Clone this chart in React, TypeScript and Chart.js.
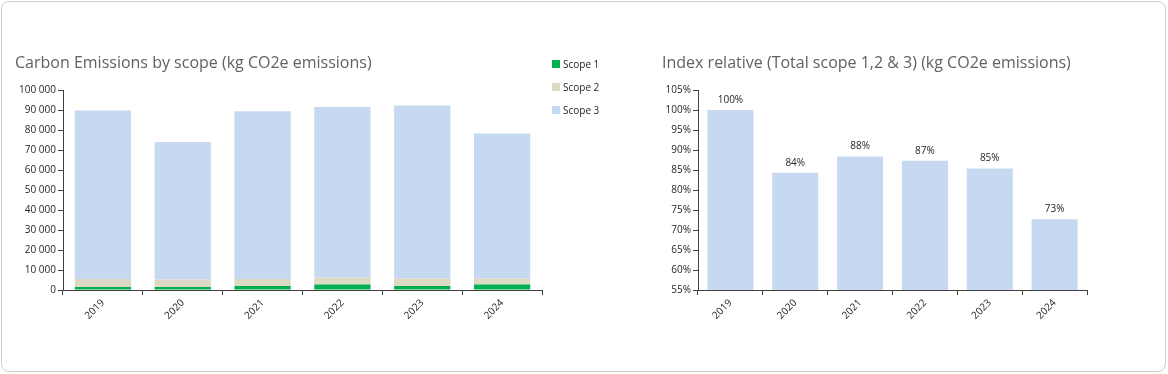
import React, { useEffect, useRef } from "react";
import { Chart, registerables } from "chart.js";

Chart.register(...registerables);

const years = ["2019", "2020", "2021", "2022", "2023", "2024"];
const scope1 = [1500, 1500, 2000, 2700, 2000, 2700];
const scope2 = [4000, 3700, 3500, 3500, 3700, 3100];
const scope3 = [84200, 68750, 83900, 85300, 86500, 72500];
const indexValues = [100, 84.3, 88.4, 87.3, 85.4, 72.7];

const FONT = "'Open Sans', sans-serif";
const AXIS = "#404040";
const TICK_TEXT = "#262626";

const fmtThousands = (v: number) => String(v).replace(/\B(?=(\d{3})+(?!\d))/g, " ");

const dataLabelPlugin = {
  id: "barTopLabels",
  afterDatasetsDraw(chart: any) {
    const ctx = chart.ctx;
    const meta = chart.getDatasetMeta(0);
    const ds = chart.data.datasets[0];
    ctx.save();
    ctx.font = `10px ${FONT}`;
    ctx.fillStyle = TICK_TEXT;
    ctx.textAlign = "center";
    ctx.textBaseline = "bottom";
    meta.data.forEach((bar: any, i: number) => {
      ctx.fillText(Math.round(ds.data[i]) + "%", bar.x, bar.y - 5);
    });
    ctx.restore();
  },
};

function axisCommon() {
  return {
    border: { display: true, color: AXIS, width: 1 },
    grid: { display: true, drawOnChartArea: false, drawTicks: true, tickLength: 5, color: AXIS },
  };
}

export default function App() {
  const leftRef = useRef<HTMLCanvasElement>(null);
  const rightRef = useRef<HTMLCanvasElement>(null);

  useEffect(() => {
    const left = new Chart(leftRef.current!, {
      type: "bar",
      data: {
        labels: years,
        datasets: [
          { label: "Scope 1", data: scope1, backgroundColor: "#00B050" },
          { label: "Scope 2", data: scope2, backgroundColor: "#DDD9C4" },
          { label: "Scope 3", data: scope3, backgroundColor: "#C6D9F0" },
        ],
      },
      options: {
        animation: false,
        responsive: false,
        maintainAspectRatio: false,
        layout: { padding: { left: 0, top: 90, right: 98, bottom: 0 } },
        plugins: { legend: { display: false }, tooltip: { enabled: false }, title: { display: false } },
        datasets: { bar: { categoryPercentage: 1, barPercentage: 0.705 } },
        scales: {
          x: {
            stacked: true,
            ...axisCommon(),
            ticks: { font: { family: FONT, size: 10 }, color: TICK_TEXT, maxRotation: 45, minRotation: 45, padding: 2 },
            afterFit: (s: any) => { s.height = 374 - 290; },
          },
          y: {
            stacked: true,
            min: 0,
            max: 100000,
            ...axisCommon(),
            ticks: { stepSize: 10000, font: { family: FONT, size: 10 }, color: TICK_TEXT, padding: 2, callback: (v: any) => fmtThousands(Number(v)) },
            afterFit: (s: any) => { s.width = 63; },
          },
        },
      },
    });

    const right = new Chart(rightRef.current!, {
      type: "bar",
      data: {
        labels: years,
        datasets: [{ label: "Index", data: indexValues, backgroundColor: "#C6D9F0" }],
      },
      options: {
        animation: false,
        responsive: false,
        maintainAspectRatio: false,
        layout: { padding: { left: 0, top: 90, right: 81, bottom: 0 } },
        plugins: { legend: { display: false }, tooltip: { enabled: false } },
        datasets: { bar: { categoryPercentage: 1, barPercentage: 0.71 } },
        scales: {
          x: {
            ...axisCommon(),
            ticks: { font: { family: FONT, size: 10 }, color: TICK_TEXT, maxRotation: 45, minRotation: 45, padding: 2 },
            afterFit: (s: any) => { s.height = 374 - 290; },
          },
          y: {
            min: 55,
            max: 105,
            ...axisCommon(),
            ticks: { stepSize: 5, font: { family: FONT, size: 10 }, color: TICK_TEXT, padding: 2, callback: (v: any) => v + "%" },
            afterFit: (s: any) => { s.width = 58; },
          },
        },
      },
      plugins: [dataLabelPlugin],
    });

    return () => {
      left.destroy();
      right.destroy();
    };
  }, []);

  const titleStyle: React.CSSProperties = {
    position: "absolute",
    top: 50,
    fontFamily: FONT,
    fontSize: 16,
    fontWeight: 500,
    color: "#616161",
    whiteSpace: "nowrap",
    lineHeight: "24px",
  };

  const legendItems = [
    { label: "Scope 1", color: "#00B050" },
    { label: "Scope 2", color: "#DDD9C4" },
    { label: "Scope 3", color: "#C6D9F0" },
  ];

  return (
    <div style={{ position: "fixed", left: 0, top: 0, width: 1168, height: 374, background: "#fff" }}>
      <div
        style={{
          position: "absolute",
          left: 1,
          top: 1,
          width: 1163,
          height: 369,
          border: "1px solid #cfcfcf",
          borderRadius: 8,
        }}
      />
      <canvas ref={leftRef} width={640} height={374} style={{ position: "absolute", left: 0, top: 0, width: 640, height: 374 }} />
      <canvas ref={rightRef} width={528} height={374} style={{ position: "absolute", left: 640, top: 0, width: 528, height: 374 }} />
      <div style={{ ...titleStyle, left: 15 }}>Carbon Emissions by scope (kg CO2e emissions)</div>
      <div style={{ ...titleStyle, left: 662 }}>Index relative (Total scope 1,2 &amp; 3) (kg CO2e emissions)</div>
      <div style={{ position: "absolute", left: 552, top: 53, fontFamily: FONT, fontSize: 10, color: TICK_TEXT }}>
        {legendItems.map((it) => (
          <div key={it.label} style={{ display: "flex", alignItems: "center", height: 22.7 }}>
            <span style={{ display: "inline-block", width: 8, height: 8, background: it.color, marginRight: 3 }} />
            <span>{it.label}</span>
          </div>
        ))}
      </div>
    </div>
  );
}
